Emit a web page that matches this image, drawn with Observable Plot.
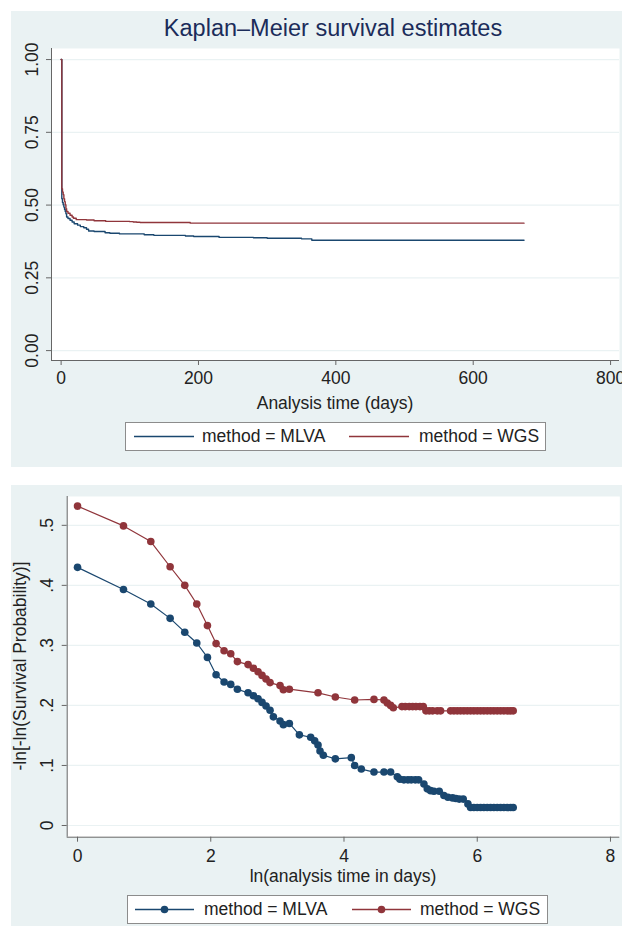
<!DOCTYPE html>
<html>
<head>
<meta charset="utf-8">
<script src="https://cdn.jsdelivr.net/npm/d3@7"></script>
<script src="https://cdn.jsdelivr.net/npm/@observablehq/plot@0.6"></script>
<style>
  body { margin: 0; background: #ffffff; width: 622px; height: 926px; position: relative; overflow: hidden;
         font-family: "Liberation Sans", Arial, sans-serif; color: #222; }
  .panel { position: absolute; background: #eaf2f3; }
  .abs { position: absolute; }
  .ctext { position: absolute; transform: translate(-50%, -50%); line-height: 1; white-space: nowrap; }
  .legend { position: absolute; background: #fff; border: 1px solid #8c8c8c; box-sizing: border-box; }
  .legend span { position: absolute; top: 50%; transform: translateY(-50%); font-size: 17.5px; line-height: 1; white-space: nowrap; color: #222; }
  .legend svg { position: absolute; top: 0; }
</style>
</head>
<body>
<div class="panel" style="left:11px; top:11px; width:611px; height:456px;"></div>
<div class="panel" style="left:11px; top:485px; width:611px; height:441px;"></div>

<div id="topChart" class="abs" style="left:0; top:0;"></div>
<div id="bottomChart" class="abs" style="left:0; top:480px;"></div>

<div class="ctext" style="left:333px; top:29px; font-size:23.5px; color:#1b2c5a;">Kaplan–Meier survival estimates</div>
<div class="ctext" style="left:335px; top:404px; font-size:17.5px;">Analysis time (days)</div>
<div class="ctext" style="left:343px; top:877px; font-size:17.5px;">ln(analysis time in days)</div>
<div class="ctext" style="left:21px; top:666px; font-size:17.5px; transform: translate(-50%, -50%) rotate(-90deg);">-ln[-ln(Survival Probability)]</div>

<div class="legend" id="legTop" style="left:125px; top:422px; width:421px; height:29px;"></div>
<div class="legend" id="legBottom" style="left:127px; top:895px; width:421px; height:29px;"></div>

<script>
// ---------- Data ----------
const seriesNames = ["method = MLVA", "method = WGS"];
const seriesColors = ["#1a476f", "#90353b"];

// Top panel: Kaplan–Meier step estimates (days, survival)
const kmMlvaDays = [0, 1, 2, 3, 4, 5, 6, 7, 8, 10, 13, 16, 19, 24, 28, 33, 37, 40, 48, 64, 71, 85, 121, 135, 181, 193, 230, 280, 300, 350, 365, 674];
const kmMlvaSurv = [1.0, 0.522, 0.509, 0.501, 0.493, 0.485, 0.478, 0.470, 0.459, 0.454, 0.448, 0.442, 0.436, 0.431, 0.426, 0.422, 0.417, 0.411, 0.409, 0.405, 0.403, 0.401, 0.398, 0.396, 0.394, 0.392, 0.389, 0.388, 0.386, 0.384, 0.379, 0.379];
const kmWgsDays = [0, 1, 2, 3, 4, 5, 6, 7, 8, 10, 13, 16, 18, 22, 37, 48, 65, 100, 105, 110, 115, 188, 674];
const kmWgsSurv = [1.0, 0.556, 0.545, 0.536, 0.522, 0.512, 0.501, 0.488, 0.478, 0.472, 0.465, 0.459, 0.455, 0.450, 0.449, 0.446, 0.444, 0.443, 0.442, 0.441, 0.440, 0.438, 0.438];

// Bottom panel: -ln[-ln(S)] vs ln(time)
const lnMlva = [0, 0.69, 1.10, 1.39, 1.61, 1.79, 1.95, 2.08, 2.20, 2.30, 2.40, 2.56, 2.64, 2.71, 2.77, 2.83, 2.89, 2.94, 3.04, 3.09, 3.18, 3.33, 3.50, 3.56, 3.61, 3.64, 3.69, 3.87, 4.11, 4.16, 4.26, 4.45, 4.60, 4.70, 4.80, 4.84, 4.90, 4.96, 5.01, 5.07, 5.12, 5.20, 5.25, 5.30, 5.35, 5.43, 5.50, 5.56, 5.63, 5.68, 5.73, 5.79, 5.86, 5.90, 5.95, 6.00, 6.05, 6.10, 6.15, 6.20, 6.25, 6.30, 6.35, 6.40, 6.45, 6.50, 6.54];
const llMlva = [0.430, 0.393, 0.369, 0.345, 0.322, 0.304, 0.280, 0.251, 0.239, 0.235, 0.227, 0.221, 0.216, 0.211, 0.205, 0.199, 0.192, 0.181, 0.174, 0.168, 0.170, 0.151, 0.147, 0.141, 0.134, 0.124, 0.117, 0.111, 0.113, 0.100, 0.094, 0.089, 0.089, 0.089, 0.081, 0.077, 0.076, 0.076, 0.076, 0.076, 0.076, 0.069, 0.061, 0.058, 0.057, 0.057, 0.050, 0.047, 0.046, 0.045, 0.044, 0.044, 0.036, 0.030, 0.030, 0.030, 0.030, 0.030, 0.030, 0.030, 0.030, 0.030, 0.030, 0.030, 0.030, 0.030, 0.030];
const lnWgs = [0, 0.69, 1.10, 1.39, 1.61, 1.79, 1.95, 2.08, 2.20, 2.30, 2.40, 2.56, 2.64, 2.71, 2.77, 2.83, 2.89, 3.04, 3.09, 3.18, 3.61, 3.87, 4.16, 4.45, 4.60, 4.65, 4.70, 4.74, 4.87, 4.92, 4.98, 5.03, 5.08, 5.14, 5.19, 5.23, 5.28, 5.33, 5.40, 5.45, 5.60, 5.65, 5.70, 5.75, 5.80, 5.85, 5.90, 5.95, 6.00, 6.05, 6.10, 6.15, 6.20, 6.25, 6.30, 6.35, 6.40, 6.45, 6.50, 6.54];
const llWgs = [0.532, 0.499, 0.473, 0.431, 0.400, 0.369, 0.333, 0.303, 0.291, 0.286, 0.273, 0.268, 0.262, 0.256, 0.250, 0.244, 0.238, 0.233, 0.226, 0.227, 0.221, 0.214, 0.209, 0.210, 0.209, 0.204, 0.200, 0.196, 0.198, 0.198, 0.198, 0.198, 0.198, 0.198, 0.198, 0.191, 0.191, 0.191, 0.191, 0.191, 0.191, 0.191, 0.191, 0.191, 0.191, 0.191, 0.191, 0.191, 0.191, 0.191, 0.191, 0.191, 0.191, 0.191, 0.191, 0.191, 0.191, 0.191, 0.191, 0.191];

// Axes
const topXTicks = [0, 200, 400, 600, 800];
const topYTicks = [0, 0.25, 0.5, 0.75, 1.0];
const topYLabels = ["0.00", "0.25", "0.50", "0.75", "1.00"];
const botXTicks = [0, 2, 4, 6, 8];
const botYTicks = [0, 0.1, 0.2, 0.3, 0.4, 0.5];
const botYLabels = ["0", ".1", ".2", ".3", ".4", ".5"];
const topXDomain = [-14, 813];
const topYDomain = [-0.034, 1.038];
const botXDomain = [-0.155, 8.14];
const botYDomain = [-0.0195, 0.548];

// ---------- Build ----------
const toRows = (xs, ys, s) => xs.map((x, i) => ({x, y: ys[i], s}));
const kmRows = [toRows(kmMlvaDays, kmMlvaSurv, 0), toRows(kmWgsDays, kmWgsSurv, 1)];
const llRows = [toRows(lnMlva, llMlva, 0), toRows(lnWgs, llWgs, 1)];
const axisColor = "#666";
const gridColor = "#eaf2f3";
const fontStyle = {fontFamily: "'Liberation Sans', Arial, sans-serif", fontSize: "17.5px", color: "#222", background: "transparent", overflow: "visible"};

const topPlot = Plot.plot({
  width: 622, height: 400,
  marginLeft: 51, marginRight: 3, marginTop: 48, marginBottom: 40,
  style: fontStyle,
  x: {domain: topXDomain},
  y: {domain: topYDomain},
  marks: [
    Plot.frame({fill: "white", stroke: null}),
    Plot.gridY({ticks: topYTicks, stroke: gridColor, strokeOpacity: 1, strokeWidth: 1.2}),
    Plot.ruleX([topXDomain[0]], {stroke: axisColor}),
    Plot.ruleY([topYDomain[0]], {stroke: axisColor}),
    Plot.axisX({ticks: topXTicks, tickSize: 5, tickPadding: 6, stroke: axisColor, tickFormat: d => String(d), label: null}),
    Plot.axisY({ticks: topYTicks, tickSize: 5, stroke: axisColor, tickFormat: () => "", label: null}),
    Plot.text(topYTicks, {y: d => d, text: (d, i) => topYLabels[i], frameAnchor: "left", dx: -19, rotate: -90, textAnchor: "middle", lineAnchor: "middle", fill: "#222"}),
    ...kmRows.map(rows => Plot.line(rows, {x: "x", y: "y", curve: "step-after", stroke: seriesColors[rows[0].s], strokeWidth: 1.4}))
  ]
});
document.getElementById("topChart").appendChild(topPlot);

const botPlot = Plot.plot({
  width: 622, height: 386,
  marginLeft: 66.7, marginRight: 2.7, marginTop: 16, marginBottom: 29.3,
  style: fontStyle,
  x: {domain: botXDomain},
  y: {domain: botYDomain},
  marks: [
    Plot.frame({fill: "white", stroke: null}),
    Plot.gridY({ticks: botYTicks, stroke: gridColor, strokeOpacity: 1, strokeWidth: 1.2}),
    Plot.ruleX([botXDomain[0]], {stroke: axisColor}),
    Plot.ruleY([botYDomain[0]], {stroke: axisColor}),
    Plot.axisX({ticks: botXTicks, tickSize: 5, tickPadding: 7, stroke: axisColor, tickFormat: d => String(d), label: null}),
    Plot.axisY({ticks: botYTicks, tickSize: 5, stroke: axisColor, tickFormat: () => "", label: null}),
    Plot.text(botYTicks, {y: d => d, text: (d, i) => botYLabels[i], frameAnchor: "left", dx: -20, rotate: -90, textAnchor: "middle", lineAnchor: "middle", fill: "#222"}),
    ...llRows.flatMap(rows => [
      Plot.line(rows, {x: "x", y: "y", stroke: seriesColors[rows[0].s], strokeWidth: 1.2}),
      Plot.dot(rows, {x: "x", y: "y", fill: seriesColors[rows[0].s], r: 3.8, stroke: null})
    ])
  ]
});
document.getElementById("bottomChart").appendChild(botPlot);

// ---------- Legends ----------
function buildLegend(id, withDots, items) {
  const box = document.getElementById(id);
  items.forEach(it => {
    const svg = document.createElementNS("http://www.w3.org/2000/svg", "svg");
    svg.setAttribute("width", it.len);
    svg.setAttribute("height", 27);
    svg.style.left = it.lineX + "px";
    const ln = document.createElementNS("http://www.w3.org/2000/svg", "line");
    ln.setAttribute("x1", 0); ln.setAttribute("x2", it.len);
    ln.setAttribute("y1", 13.5); ln.setAttribute("y2", 13.5);
    ln.setAttribute("stroke", it.color); ln.setAttribute("stroke-width", 1.4);
    svg.appendChild(ln);
    if (withDots) {
      const c = document.createElementNS("http://www.w3.org/2000/svg", "circle");
      c.setAttribute("cx", it.len / 2); c.setAttribute("cy", 13.5); c.setAttribute("r", 3.8);
      c.setAttribute("fill", it.color);
      svg.appendChild(c);
    }
    box.appendChild(svg);
    const sp = document.createElement("span");
    sp.textContent = it.name;
    sp.style.left = it.textX + "px";
    box.appendChild(sp);
  });
}
buildLegend("legTop", false, [
  {name: seriesNames[0], color: seriesColors[0], lineX: 8, len: 60, textX: 76},
  {name: seriesNames[1], color: seriesColors[1], lineX: 223, len: 60, textX: 293}
]);
buildLegend("legBottom", true, [
  {name: seriesNames[0], color: seriesColors[0], lineX: 7, len: 59, textX: 76},
  {name: seriesNames[1], color: seriesColors[1], lineX: 224, len: 59, textX: 292}
]);
</script>
</body>
</html>
